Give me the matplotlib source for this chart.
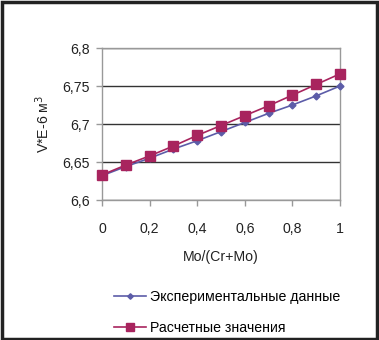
import numpy as np
import matplotlib
matplotlib.use('Agg')
import matplotlib.pyplot as plt
from matplotlib.patches import Rectangle
from matplotlib.ticker import FuncFormatter

# --- Data ---
x = [0, 0.1, 0.2, 0.3, 0.4, 0.5, 0.6, 0.7, 0.8, 0.9, 1.0]
experimental = [6.632, 6.644, 6.655, 6.667, 6.678, 6.690, 6.702, 6.714, 6.725, 6.737, 6.750]
calculated = [6.633, 6.646, 6.658, 6.671, 6.685, 6.698, 6.711, 6.724, 6.738, 6.752, 6.766]

labels = ['Экспериментальные данные', 'Расчетные значения']

plt.rcParams['font.family'] = ['Liberation Sans', 'DejaVu Sans']
plt.rcParams['font.size'] = 10.2

fig = plt.figure(figsize=(3.79, 3.40), dpi=100)
ax = fig.add_axes([102 / 379, 1 - 200 / 340, 238 / 379, 152 / 340])

ax.plot(x, experimental, '-', color='#5C5CA8', lw=1.2, marker='D', ms=3.5,
        mfc='#5C5CA8', mec='#5C5CA8', label=labels[0], clip_on=False, zorder=3)
ax.plot(x, calculated, '-', color='#A8245E', lw=1.2, marker='s', ms=6.5,
        mfc='#A8245E', mec='#A8245E', label=labels[1], clip_on=False, zorder=3)

ax.set_xlim(0, 1)
ax.set_ylim(6.6, 6.8)
ax.set_xticks(np.arange(0, 1.01, 0.2))
ax.set_yticks([6.6, 6.65, 6.7, 6.75, 6.8])

def comma(v, pos):
    s = ('%.2f' % v).rstrip('0').rstrip('.')
    return s.replace('.', ',')

ax.xaxis.set_major_formatter(FuncFormatter(comma))
ax.yaxis.set_major_formatter(FuncFormatter(comma))

ax.grid(axis='y', color='#333333', lw=1)
ax.set_axisbelow(True)
for s in ax.spines.values():
    s.set_color('#999999')
    s.set_linewidth(1)
ax.tick_params(colors='#999999', labelcolor='#222222', length=4, width=1, pad=5)
ax.tick_params(axis='x', pad=12)

ax.set_xlabel('Mo/(Cr+Mo)', labelpad=10, color='#222222')
ax.set_ylabel('V*E-6 м$^3$', labelpad=7, color='#222222')

fig.legend(loc='upper left', bbox_to_anchor=(108 / 379, 1 - 284 / 340),
           frameon=False, handlelength=2.3, handletextpad=0.3,
           labelspacing=1.25, borderaxespad=0, markerscale=0.8)

# Outer frame
fig.patches.append(Rectangle((0.004, 0.004), 0.99, 0.99, transform=fig.transFigure,
                             fill=False, edgecolor='#222222', lw=2.5))

plt.savefig('out.png', dpi=100)
